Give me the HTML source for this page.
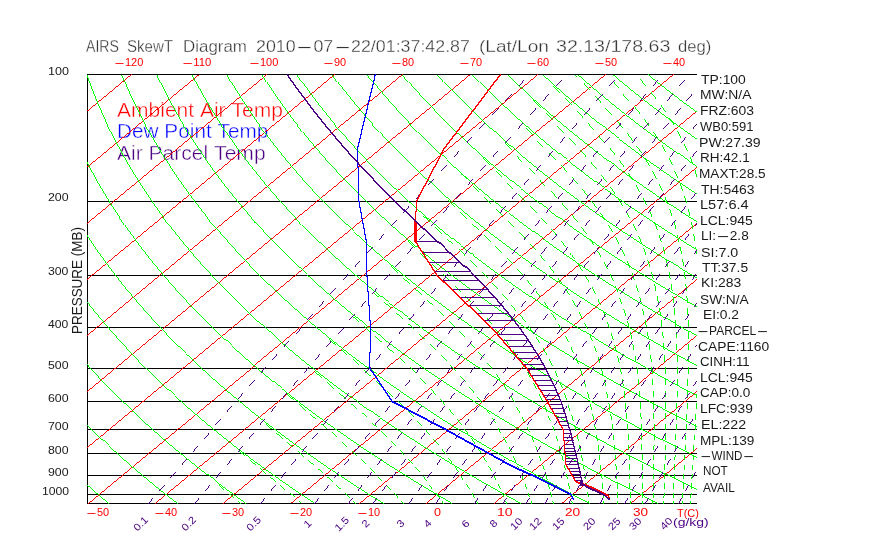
<!DOCTYPE html>
<html><head><meta charset="utf-8"><title>AIRS SkewT Diagram</title>
<style>
html,body{margin:0;padding:0;background:#fff}
#w{position:relative;width:870px;height:560px;overflow:hidden;background:#fff;font-family:"Liberation Sans",sans-serif}
#t{position:absolute;left:0;top:0;width:870px;height:560px;will-change:transform}
#w i{display:inline-block;font-style:normal;transform:scaleX(3);transform-origin:0 0}
#w span{position:absolute;white-space:pre;line-height:1;transform-origin:0 0;display:block}
</style></head><body><div id="w">
<div id="t">
<span style="left:85.6px;top:39.4px;font-size:15.8px;color:#333;transform:scaleX(0.8939);-webkit-text-stroke:0.3px #fff;">AIRS </span>
<span style="left:127.3px;top:39.4px;font-size:15.8px;color:#333;transform:scaleX(0.9532);-webkit-text-stroke:0.3px #fff;">SkewT </span>
<span style="left:182.8px;top:39.4px;font-size:15.8px;color:#333;transform:scaleX(1.0717);-webkit-text-stroke:0.3px #fff;">Diagram </span>
<span style="left:256.3px;top:39.4px;font-size:15.8px;color:#333;transform:scaleX(1.1273);-webkit-text-stroke:0.3px #fff;">2010<i style="width:15.8px">-</i>07<i style="width:15.8px">-</i>22/01:37:42.87 </span>
<span style="left:478.8px;top:39.4px;font-size:15.8px;color:#333;transform:scaleX(1.2058);-webkit-text-stroke:0.3px #fff;">(Lat/Lon </span>
<span style="left:556.3px;top:39.4px;font-size:15.8px;color:#333;transform:scaleX(1.2388);-webkit-text-stroke:0.3px #fff;">32.13/178.63 </span>
<span style="left:677.6px;top:39.4px;font-size:15.8px;color:#333;transform:scaleX(1.0543);-webkit-text-stroke:0.3px #fff;">deg) </span>
<span style="left:113.8px;top:57.8px;font-size:10px;color:#ff0000;transform:scaleX(1.0973);"><i style="width:10px">-</i>120</span>
<span style="left:181.5px;top:57.8px;font-size:10px;color:#ff0000;transform:scaleX(1.1308);"><i style="width:10px">-</i>110</span>
<span style="left:249.3px;top:57.8px;font-size:10px;color:#ff0000;transform:scaleX(1.0973);"><i style="width:10px">-</i>100</span>
<span style="left:323.2px;top:57.8px;font-size:10px;color:#ff0000;transform:scaleX(1.0922);"><i style="width:10px">-</i>90</span>
<span style="left:390.9px;top:57.8px;font-size:10px;color:#ff0000;transform:scaleX(1.0922);"><i style="width:10px">-</i>80</span>
<span style="left:458.7px;top:57.8px;font-size:10px;color:#ff0000;transform:scaleX(1.0922);"><i style="width:10px">-</i>70</span>
<span style="left:526.4px;top:57.8px;font-size:10px;color:#ff0000;transform:scaleX(1.0922);"><i style="width:10px">-</i>60</span>
<span style="left:594.2px;top:57.8px;font-size:10px;color:#ff0000;transform:scaleX(1.0922);"><i style="width:10px">-</i>50</span>
<span style="left:661.9px;top:57.8px;font-size:10px;color:#ff0000;transform:scaleX(1.0922);"><i style="width:10px">-</i>40</span>
<span style="left:85.7px;top:508.1px;font-size:10px;color:#ff0000;transform:scaleX(1.0922);"><i style="width:10px">-</i>50</span>
<span style="left:153.5px;top:508.1px;font-size:10px;color:#ff0000;transform:scaleX(1.0922);"><i style="width:10px">-</i>40</span>
<span style="left:221.2px;top:508.1px;font-size:10px;color:#ff0000;transform:scaleX(1.0922);"><i style="width:10px">-</i>30</span>
<span style="left:289px;top:508.1px;font-size:10px;color:#ff0000;transform:scaleX(1.0922);"><i style="width:10px">-</i>20</span>
<span style="left:356.7px;top:508.1px;font-size:10px;color:#ff0000;transform:scaleX(1.0922);"><i style="width:10px">-</i>10</span>
<span style="left:433.7px;top:508.1px;font-size:10px;color:#ff0000;transform:scaleX(1.2526);">0</span>
<span style="left:496.9px;top:508.1px;font-size:10px;color:#ff0000;transform:scaleX(1.4028);">10</span>
<span style="left:565px;top:508.1px;font-size:10px;color:#ff0000;transform:scaleX(1.3672);">20</span>
<span style="left:633px;top:508.1px;font-size:10px;color:#ff0000;transform:scaleX(1.3514);">30</span>
<span style="left:677.1px;top:507.8px;font-size:10.6px;color:#ff0000;transform:scaleX(1.0345);">T(C)</span>
<span style="left:47.7px;top:66.9px;font-size:10px;color:#1a1a1a;transform:scaleX(1.2548);">100</span>
<span style="left:48.1px;top:193.4px;font-size:10px;color:#1a1a1a;transform:scaleX(1.2342);">200</span>
<span style="left:48.2px;top:267.4px;font-size:10px;color:#1a1a1a;transform:scaleX(1.2249);">300</span>
<span style="left:48.4px;top:319.9px;font-size:10px;color:#1a1a1a;transform:scaleX(1.2127);">400</span>
<span style="left:48.2px;top:360.6px;font-size:10px;color:#1a1a1a;transform:scaleX(1.2264);">500</span>
<span style="left:48.1px;top:393.8px;font-size:10px;color:#1a1a1a;transform:scaleX(1.2342);">600</span>
<span style="left:48.1px;top:421.9px;font-size:10px;color:#1a1a1a;transform:scaleX(1.2350);">700</span>
<span style="left:48.2px;top:446.3px;font-size:10px;color:#1a1a1a;transform:scaleX(1.2287);">800</span>
<span style="left:48.1px;top:467.8px;font-size:10px;color:#1a1a1a;transform:scaleX(1.2311);">900</span>
<span style="left:41.6px;top:487px;font-size:10px;color:#1a1a1a;transform:scaleX(1.2180);">1000</span>
<span style="left:117.4px;top:99.8px;font-size:20px;color:#ff0000;transform:scaleX(1.0508);-webkit-text-stroke:0.4px #fff;">Ambient&nbsp;Air&nbsp;Temp</span>
<span style="left:116.9px;top:121.3px;font-size:20px;color:#0000ff;transform:scaleX(1.0392);-webkit-text-stroke:0.4px #fff;">Dew&nbsp;Point&nbsp;Temp</span>
<span style="left:117.4px;top:143.1px;font-size:20px;color:#4b0082;transform:scaleX(1.0527);-webkit-text-stroke:0.4px #fff;">Air&nbsp;Parcel&nbsp;Temp</span>
<span style="left:700.7px;top:74.4px;font-size:12.5px;color:#1a1a1a;transform:scaleX(1.1125);">TP:100</span>
<span style="left:699.9px;top:89.3px;font-size:12.5px;color:#1a1a1a;transform:scaleX(1.1116);">MW:N/A</span>
<span style="left:699.5px;top:105.1px;font-size:12.5px;color:#1a1a1a;transform:scaleX(1.1113);">FRZ:603</span>
<span style="left:700.1px;top:120.8px;font-size:12.5px;color:#1a1a1a;transform:scaleX(1.0382);">WB0:591</span>
<span style="left:698.6px;top:136.5px;font-size:12.5px;color:#1a1a1a;transform:scaleX(1.1272);">PW:27.39</span>
<span style="left:699.5px;top:152.2px;font-size:12.5px;color:#1a1a1a;transform:scaleX(1.0831);">RH:42.1</span>
<span style="left:698.7px;top:167.5px;font-size:12.5px;color:#1a1a1a;transform:scaleX(1.0889);">MAXT:28.5</span>
<span style="left:700.7px;top:183.7px;font-size:12.5px;color:#1a1a1a;transform:scaleX(1.1141);">TH:5463</span>
<span style="left:700.2px;top:199px;font-size:12.5px;color:#1a1a1a;transform:scaleX(1.1684);">L57:6.4</span>
<span style="left:699.9px;top:215.1px;font-size:12.5px;color:#1a1a1a;transform:scaleX(1.1154);">LCL:945</span>
<span style="left:700.7px;top:230.4px;font-size:12.5px;color:#1a1a1a;transform:scaleX(1.0901);">LI:<i style="width:12.5px">-</i>2.8</span>
<span style="left:701.2px;top:246.5px;font-size:12.5px;color:#1a1a1a;transform:scaleX(1.1415);">SI:7.0</span>
<span style="left:701.5px;top:261.8px;font-size:12.5px;color:#1a1a1a;transform:scaleX(1.1051);">TT:37.5</span>
<span style="left:700.7px;top:277.3px;font-size:12.5px;color:#1a1a1a;transform:scaleX(1.1135);">KI:283</span>
<span style="left:700.4px;top:293.5px;font-size:12.5px;color:#1a1a1a;transform:scaleX(1.1000);">SW:N/A</span>
<span style="left:702.7px;top:308.8px;font-size:12.5px;color:#1a1a1a;transform:scaleX(1.1028);">EI:0.2</span>
<span style="left:697px;top:324.5px;font-size:12.5px;color:#1a1a1a;transform:scaleX(0.9609);"><i style="width:12.5px">-</i>PARCEL<i style="width:12.5px">-</i></span>
<span style="left:697.9px;top:340.6px;font-size:12.5px;color:#1a1a1a;transform:scaleX(1.1061);">CAPE:1160</span>
<span style="left:699.9px;top:355.9px;font-size:12.5px;color:#1a1a1a;transform:scaleX(1.0573);">CINH:11</span>
<span style="left:699.9px;top:371.6px;font-size:12.5px;color:#1a1a1a;transform:scaleX(1.1154);">LCL:945</span>
<span style="left:699.9px;top:387.4px;font-size:12.5px;color:#1a1a1a;transform:scaleX(1.0825);">CAP:0.0</span>
<span style="left:699.9px;top:403.1px;font-size:12.5px;color:#1a1a1a;transform:scaleX(1.1009);">LFC:939</span>
<span style="left:700.6px;top:418.8px;font-size:12.5px;color:#1a1a1a;transform:scaleX(1.1380);">EL:222</span>
<span style="left:699.9px;top:434.5px;font-size:12.5px;color:#1a1a1a;transform:scaleX(1.0865);">MPL:139</span>
<span style="left:699.5px;top:450.2px;font-size:12.5px;color:#1a1a1a;transform:scaleX(0.9273);"><i style="width:12.5px">-</i>WIND<i style="width:12.5px">-</i></span>
<span style="left:702.8px;top:465.2px;font-size:12.5px;color:#1a1a1a;transform:scaleX(0.9372);">NOT</span>
<span style="left:702.6px;top:481.7px;font-size:12.5px;color:#1a1a1a;transform:scaleX(0.9476);">AVAIL</span>
<span style="left:133.7px;top:518.5px;font-size:10.2px;color:#4b0082;transform-origin:7px 5px;transform:rotate(-45deg) scaleX(1.12);">0.1</span>
<span style="left:182.2px;top:518.5px;font-size:10.2px;color:#4b0082;transform-origin:7px 5px;transform:rotate(-45deg) scaleX(1.12);">0.2</span>
<span style="left:247.4px;top:518.5px;font-size:10.2px;color:#4b0082;transform-origin:7.1px 5px;transform:rotate(-45deg) scaleX(1.12);">0.5</span>
<span style="left:304.8px;top:518.5px;font-size:10.2px;color:#4b0082;transform-origin:3px 5px;transform:rotate(-45deg) scaleX(1.12);">1</span>
<span style="left:334.7px;top:518.5px;font-size:10.2px;color:#4b0082;transform-origin:7.3px 5px;transform:rotate(-45deg) scaleX(1.12);">1.5</span>
<span style="left:363.2px;top:518.5px;font-size:10.2px;color:#4b0082;transform-origin:2.8px 5px;transform:rotate(-45deg) scaleX(1.12);">2</span>
<span style="left:398.2px;top:518.5px;font-size:10.2px;color:#4b0082;transform-origin:2.8px 5px;transform:rotate(-45deg) scaleX(1.12);">3</span>
<span style="left:425.2px;top:518.5px;font-size:10.2px;color:#4b0082;transform-origin:2.8px 5px;transform:rotate(-45deg) scaleX(1.12);">4</span>
<span style="left:463.1px;top:518.5px;font-size:10.2px;color:#4b0082;transform-origin:2.9px 5px;transform:rotate(-45deg) scaleX(1.12);">6</span>
<span style="left:491.1px;top:518.5px;font-size:10.2px;color:#4b0082;transform-origin:2.8px 5px;transform:rotate(-45deg) scaleX(1.12);">8</span>
<span style="left:510.8px;top:518.5px;font-size:10.2px;color:#4b0082;transform-origin:5.9px 5px;transform:rotate(-45deg) scaleX(1.12);">10</span>
<span style="left:530.4px;top:518.5px;font-size:10.2px;color:#4b0082;transform-origin:5.8px 5px;transform:rotate(-45deg) scaleX(1.12);">12</span>
<span style="left:553.2px;top:518.5px;font-size:10.2px;color:#4b0082;transform-origin:5.8px 5px;transform:rotate(-45deg) scaleX(1.12);">15</span>
<span style="left:583.7px;top:518.5px;font-size:10.2px;color:#4b0082;transform-origin:5.7px 5px;transform:rotate(-45deg) scaleX(1.12);">20</span>
<span style="left:608.5px;top:518.5px;font-size:10.2px;color:#4b0082;transform-origin:5.7px 5px;transform:rotate(-45deg) scaleX(1.12);">25</span>
<span style="left:630px;top:518.5px;font-size:10.2px;color:#4b0082;transform-origin:5.7px 5px;transform:rotate(-45deg) scaleX(1.12);">30</span>
<span style="left:661.4px;top:518.5px;font-size:10.2px;color:#4b0082;transform-origin:5.6px 5px;transform:rotate(-45deg) scaleX(1.12);">40</span>
<span style="left:673.1px;top:517.3px;font-size:11.5px;color:#4b0082;transform:scaleX(1.2157);">(g/kg)</span>
<span style="left:69.9px;top:333.6px;font-size:14.1px;color:#1a1a1a;transform-origin:0 0;transform:rotate(-90deg) scaleX(0.9546);">PRESSURE&nbsp;(MB)</span>
</div>
<svg width="870" height="560" viewBox="0 0 870 560" style="position:absolute;left:0;top:0" shape-rendering="crispEdges" fill="none">
<defs><clipPath id="c"><rect x="87" y="74" width="610" height="430"/></clipPath></defs>
<path stroke="#000" stroke-width="1" d="M87 201.5 H697 M87 275.5 H697 M87 327.5 H697 M87 368.5 H697 M87 401.5 H697 M87 429.5 H697 M87 453.5 H697 M87 475.5 H697 M87 494.5 H697 M87 74.5 H697 M87 503.5 H697 M87.5 74 V504"/>
<g clip-path="url(#c)" stroke-width="1">
<path stroke="#ff0000" stroke-width="0.99" d="M-454.5 503.5 L63.7 74.5 M-386.8 503.5 L131.5 74.5 M-319 503.5 L199.2 74.5 M-251.2 503.5 L267 74.5 M-183.5 503.5 L334.7 74.5 M-115.8 503.5 L402.5 74.5 M-48 503.5 L470.2 74.5 M19.8 503.5 L538 74.5 M87.5 503.5 L605.7 74.5 M155.2 503.5 L673.5 74.5 M223 503.5 L741.2 74.5 M290.8 503.5 L809 74.5 M358.5 503.5 L876.7 74.5 M426.2 503.5 L944.5 74.5 M494 503.5 L1012.2 74.5 M561.8 503.5 L1080 74.5 M629.5 503.5 L1147.7 74.5 M697.2 503.5 L1215.5 74.5"/>
<path stroke="#00ff00" stroke-width="0.99" d="M-123.6 74.5 L-123.4 81.7 L-123.1 88.8 L-122.7 96 L-122.2 103.1 L-121.6 110.2 L-121 117.4 L-120.2 124.5 L-119.3 131.7 L-118.2 138.8 L-117.1 146 L-115.9 153.2 L-114.6 160.3 L-113.1 167.4 L-111.5 174.6 L-109.9 181.8 L-108.1 188.9 L-106.1 196.1 L-104.1 203.2 L-101.9 210.3 L-99.7 217.5 L-97.3 224.7 L-94.7 231.8 L-92.1 238.9 L-89.3 246.1 L-86.4 253.2 L-83.4 260.4 L-80.2 267.6 L-76.9 274.7 L-73.5 281.9 L-69.9 289 L-66.2 296.1 L-62.3 303.3 L-58.4 310.4 L-54.2 317.6 L-50 324.8 L-45.5 331.9 L-41 339.1 L-36.2 346.2 L-31.4 353.4 L-26.4 360.5 L-21.2 367.6 L-15.9 374.8 L-10.4 381.9 L-4.7 389.1 L1.1 396.2 L7 403.4 L13.2 410.6 L19.5 417.7 L26 424.9 L32.6 432 L39.4 439.1 L46.4 446.3 L53.5 453.4 L60.9 460.6 L68.4 467.8 L76.1 474.9 L84 482.1 L92.1 489.2 L100.3 496.4 L108.8 503.5 M-88.5 74.5 L-87.9 81.7 L-87.2 88.8 L-86.5 96 L-85.6 103.1 L-84.6 110.2 L-83.4 117.4 L-82.2 124.5 L-80.9 131.7 L-79.5 138.8 L-77.9 146 L-76.2 153.2 L-74.4 160.3 L-72.5 167.4 L-70.5 174.6 L-68.4 181.8 L-66.1 188.9 L-63.7 196.1 L-61.2 203.2 L-58.6 210.3 L-55.8 217.5 L-52.9 224.7 L-49.9 231.8 L-46.7 238.9 L-43.4 246.1 L-40 253.2 L-36.4 260.4 L-32.7 267.6 L-28.9 274.7 L-24.9 281.9 L-20.8 289 L-16.6 296.1 L-12.2 303.3 L-7.6 310.4 L-2.9 317.6 L2 324.8 L7 331.9 L12.1 339.1 L17.4 346.2 L22.9 353.4 L28.5 360.5 L34.3 367.6 L40.3 374.8 L46.4 381.9 L52.7 389.1 L59.2 396.2 L65.8 403.4 L72.6 410.6 L79.5 417.7 L86.7 424.9 L94 432 L101.5 439.1 L109.2 446.3 L117.1 453.4 L125.1 460.6 L133.4 467.8 L141.8 474.9 L150.4 482.1 L159.2 489.2 L168.3 496.4 L177.5 503.5 M-53.4 74.5 L-52.5 81.7 L-51.4 88.8 L-50.2 96 L-48.9 103.1 L-47.5 110.2 L-45.9 117.4 L-44.3 124.5 L-42.5 131.7 L-40.7 138.8 L-38.7 146 L-36.6 153.2 L-34.3 160.3 L-32 167.4 L-29.5 174.6 L-26.9 181.8 L-24.1 188.9 L-21.3 196.1 L-18.3 203.2 L-15.2 210.3 L-11.9 217.5 L-8.5 224.7 L-5 231.8 L-1.3 238.9 L2.5 246.1 L6.4 253.2 L10.5 260.4 L14.7 267.6 L19.1 274.7 L23.6 281.9 L28.3 289 L33.1 296.1 L38 303.3 L43.2 310.4 L48.4 317.6 L53.9 324.8 L59.5 331.9 L65.2 339.1 L71.1 346.2 L77.2 353.4 L83.5 360.5 L89.9 367.6 L96.4 374.8 L103.2 381.9 L110.1 389.1 L117.2 396.2 L124.5 403.4 L132 410.6 L139.6 417.7 L147.4 424.9 L155.4 432 L163.6 439.1 L172 446.3 L180.6 453.4 L189.4 460.6 L198.3 467.8 L207.5 474.9 L216.9 482.1 L226.4 489.2 L236.2 496.4 L246.2 503.5 M-18.4 74.5 L-17 81.7 L-15.5 88.8 L-13.9 96 L-12.2 103.1 L-10.4 110.2 L-8.4 117.4 L-6.4 124.5 L-4.2 131.7 L-1.9 138.8 L0.6 146 L3.1 153.2 L5.8 160.3 L8.6 167.4 L11.5 174.6 L14.6 181.8 L17.8 188.9 L21.1 196.1 L24.6 203.2 L28.2 210.3 L32 217.5 L35.9 224.7 L39.9 231.8 L44 238.9 L48.4 246.1 L52.8 253.2 L57.4 260.4 L62.2 267.6 L67.1 274.7 L72.1 281.9 L77.3 289 L82.7 296.1 L88.2 303.3 L93.9 310.4 L99.8 317.6 L105.8 324.8 L112 331.9 L118.3 339.1 L124.8 346.2 L131.5 353.4 L138.4 360.5 L145.4 367.6 L152.6 374.8 L160 381.9 L167.5 389.1 L175.3 396.2 L183.2 403.4 L191.3 410.6 L199.7 417.7 L208.2 424.9 L216.8 432 L225.7 439.1 L234.8 446.3 L244.1 453.4 L253.6 460.6 L263.3 467.8 L273.2 474.9 L283.3 482.1 L293.6 489.2 L304.1 496.4 L314.9 503.5 M16.7 74.5 L18.5 81.7 L20.3 88.8 L22.3 96 L24.5 103.1 L26.7 110.2 L29.1 117.4 L31.6 124.5 L34.2 131.7 L36.9 138.8 L39.8 146 L42.8 153.2 L45.9 160.3 L49.2 167.4 L52.6 174.6 L56.1 181.8 L59.8 188.9 L63.6 196.1 L67.5 203.2 L71.6 210.3 L75.8 217.5 L80.2 224.7 L84.8 231.8 L89.4 238.9 L94.2 246.1 L99.2 253.2 L104.4 260.4 L109.6 267.6 L115.1 274.7 L120.7 281.9 L126.4 289 L132.4 296.1 L138.4 303.3 L144.7 310.4 L151.1 317.6 L157.7 324.8 L164.5 331.9 L171.4 339.1 L178.5 346.2 L185.8 353.4 L193.3 360.5 L200.9 367.6 L208.7 374.8 L216.8 381.9 L225 389.1 L233.4 396.2 L242 403.4 L250.7 410.6 L259.7 417.7 L268.9 424.9 L278.3 432 L287.8 439.1 L297.6 446.3 L307.6 453.4 L317.8 460.6 L328.2 467.8 L338.9 474.9 L349.7 482.1 L360.8 489.2 L372.1 496.4 L383.6 503.5 M51.8 74.5 L53.9 81.7 L56.2 88.8 L58.6 96 L61.1 103.1 L63.8 110.2 L66.6 117.4 L69.5 124.5 L72.5 131.7 L75.7 138.8 L79 146 L82.5 153.2 L86 160.3 L89.7 167.4 L93.6 174.6 L97.6 181.8 L101.7 188.9 L106 196.1 L110.4 203.2 L115 210.3 L119.7 217.5 L124.6 224.7 L129.6 231.8 L134.8 238.9 L140.1 246.1 L145.6 253.2 L151.3 260.4 L157.1 267.6 L163.1 274.7 L169.2 281.9 L175.5 289 L182 296.1 L188.6 303.3 L195.5 310.4 L202.4 317.6 L209.6 324.8 L217 331.9 L224.5 339.1 L232.2 346.2 L240.1 353.4 L248.2 360.5 L256.4 367.6 L264.9 374.8 L273.5 381.9 L282.4 389.1 L291.4 396.2 L300.7 403.4 L310.1 410.6 L319.8 417.7 L329.6 424.9 L339.7 432 L350 439.1 L360.4 446.3 L371.1 453.4 L382.1 460.6 L393.2 467.8 L404.6 474.9 L416.2 482.1 L428 489.2 L440 496.4 L452.3 503.5 M86.8 74.5 L89.4 81.7 L92.1 88.8 L94.9 96 L97.8 103.1 L100.9 110.2 L104.1 117.4 L107.4 124.5 L110.9 131.7 L114.5 138.8 L118.2 146 L122.1 153.2 L126.1 160.3 L130.3 167.4 L134.6 174.6 L139.1 181.8 L143.7 188.9 L148.4 196.1 L153.3 203.2 L158.4 210.3 L163.6 217.5 L169 224.7 L174.5 231.8 L180.2 238.9 L186 246.1 L192 253.2 L198.2 260.4 L204.6 267.6 L211.1 274.7 L217.7 281.9 L224.6 289 L231.6 296.1 L238.8 303.3 L246.2 310.4 L253.8 317.6 L261.5 324.8 L269.5 331.9 L277.6 339.1 L285.9 346.2 L294.4 353.4 L303.1 360.5 L312 367.6 L321 374.8 L330.3 381.9 L339.8 389.1 L349.5 396.2 L359.4 403.4 L369.5 410.6 L379.8 417.7 L390.4 424.9 L401.1 432 L412.1 439.1 L423.3 446.3 L434.7 453.4 L446.3 460.6 L458.2 467.8 L470.3 474.9 L482.6 482.1 L495.2 489.2 L508 496.4 L521 503.5 M121.9 74.5 L124.9 81.7 L127.9 88.8 L131.1 96 L134.5 103.1 L138 110.2 L141.6 117.4 L145.4 124.5 L149.2 131.7 L153.3 138.8 L157.5 146 L161.8 153.2 L166.3 160.3 L170.9 167.4 L175.6 174.6 L180.6 181.8 L185.6 188.9 L190.9 196.1 L196.2 203.2 L201.8 210.3 L207.5 217.5 L213.3 224.7 L219.4 231.8 L225.6 238.9 L231.9 246.1 L238.5 253.2 L245.1 260.4 L252 267.6 L259.1 274.7 L266.3 281.9 L273.7 289 L281.3 296.1 L289 303.3 L297 310.4 L305.1 317.6 L313.4 324.8 L322 331.9 L330.7 339.1 L339.6 346.2 L348.7 353.4 L358 360.5 L367.5 367.6 L377.2 374.8 L387.1 381.9 L397.2 389.1 L407.6 396.2 L418.1 403.4 L428.9 410.6 L439.9 417.7 L451.1 424.9 L462.5 432 L474.2 439.1 L486.1 446.3 L498.2 453.4 L510.5 460.6 L523.1 467.8 L536 474.9 L549 482.1 L562.3 489.2 L575.9 496.4 L589.7 503.5 M157 74.5 L160.3 81.7 L163.8 88.8 L167.4 96 L171.2 103.1 L175.1 110.2 L179.1 117.4 L183.3 124.5 L187.6 131.7 L192.1 138.8 L196.7 146 L201.5 153.2 L206.4 160.3 L211.4 167.4 L216.7 174.6 L222.1 181.8 L227.6 188.9 L233.3 196.1 L239.2 203.2 L245.2 210.3 L251.4 217.5 L257.7 224.7 L264.2 231.8 L270.9 238.9 L277.8 246.1 L284.9 253.2 L292.1 260.4 L299.5 267.6 L307.1 274.7 L314.8 281.9 L322.8 289 L330.9 296.1 L339.2 303.3 L347.7 310.4 L356.5 317.6 L365.4 324.8 L374.5 331.9 L383.8 339.1 L393.3 346.2 L403 353.4 L412.9 360.5 L423 367.6 L433.4 374.8 L443.9 381.9 L454.7 389.1 L465.7 396.2 L476.9 403.4 L488.3 410.6 L499.9 417.7 L511.8 424.9 L523.9 432 L536.3 439.1 L548.9 446.3 L561.7 453.4 L574.8 460.6 L588.1 467.8 L601.6 474.9 L615.5 482.1 L629.5 489.2 L643.8 496.4 L658.4 503.5 M192 74.5 L195.8 81.7 L199.7 88.8 L203.7 96 L207.8 103.1 L212.2 110.2 L216.6 117.4 L221.2 124.5 L226 131.7 L230.9 138.8 L235.9 146 L241.1 153.2 L246.5 160.3 L252 167.4 L257.7 174.6 L263.5 181.8 L269.5 188.9 L275.7 196.1 L282.1 203.2 L288.6 210.3 L295.2 217.5 L302.1 224.7 L309.1 231.8 L316.3 238.9 L323.7 246.1 L331.3 253.2 L339 260.4 L346.9 267.6 L355.1 274.7 L363.4 281.9 L371.9 289 L380.5 296.1 L389.4 303.3 L398.5 310.4 L407.8 317.6 L417.3 324.8 L427 331.9 L436.9 339.1 L447 346.2 L457.3 353.4 L467.8 360.5 L478.5 367.6 L489.5 374.8 L500.7 381.9 L512.1 389.1 L523.7 396.2 L535.6 403.4 L547.7 410.6 L560 417.7 L572.6 424.9 L585.4 432 L598.4 439.1 L611.7 446.3 L625.2 453.4 L639 460.6 L653 467.8 L667.3 474.9 L681.9 482.1 L696.7 489.2 L711.8 496.4 L727.1 503.5 M227.1 74.5 L231.2 81.7 L235.5 88.8 L240 96 L244.5 103.1 L249.2 110.2 L254.1 117.4 L259.1 124.5 L264.3 131.7 L269.7 138.8 L275.1 146 L280.8 153.2 L286.6 160.3 L292.6 167.4 L298.7 174.6 L305 181.8 L311.5 188.9 L318.2 196.1 L325 203.2 L332 210.3 L339.1 217.5 L346.5 224.7 L354 231.8 L361.7 238.9 L369.6 246.1 L377.7 253.2 L385.9 260.4 L394.4 267.6 L403.1 274.7 L411.9 281.9 L420.9 289 L430.2 296.1 L439.6 303.3 L449.3 310.4 L459.1 317.6 L469.2 324.8 L479.5 331.9 L489.9 339.1 L500.6 346.2 L511.6 353.4 L522.7 360.5 L534.1 367.6 L545.7 374.8 L557.5 381.9 L569.5 389.1 L581.8 396.2 L594.3 403.4 L607.1 410.6 L620.1 417.7 L633.3 424.9 L646.8 432 L660.5 439.1 L674.5 446.3 L688.7 453.4 L703.2 460.6 L718 467.8 L733 474.9 L748.3 482.1 L763.9 489.2 L779.7 496.4 L795.8 503.5 M262.2 74.5 L266.7 81.7 L271.4 88.8 L276.2 96 L281.2 103.1 L286.3 110.2 L291.6 117.4 L297.1 124.5 L302.7 131.7 L308.4 138.8 L314.4 146 L320.5 153.2 L326.7 160.3 L333.2 167.4 L339.8 174.6 L346.5 181.8 L353.5 188.9 L360.6 196.1 L367.9 203.2 L375.4 210.3 L383 217.5 L390.8 224.7 L398.9 231.8 L407.1 238.9 L415.5 246.1 L424.1 253.2 L432.9 260.4 L441.9 267.6 L451 274.7 L460.4 281.9 L470 289 L479.8 296.1 L489.8 303.3 L500 310.4 L510.5 317.6 L521.1 324.8 L532 331.9 L543 339.1 L554.3 346.2 L565.9 353.4 L577.6 360.5 L589.6 367.6 L601.8 374.8 L614.3 381.9 L626.9 389.1 L639.9 396.2 L653 403.4 L666.4 410.6 L680.1 417.7 L694 424.9 L708.2 432 L722.6 439.1 L737.3 446.3 L752.3 453.4 L767.5 460.6 L783 467.8 L798.7 474.9 L814.7 482.1 L831.1 489.2 L847.6 496.4 L864.5 503.5 M297.2 74.5 L302.2 81.7 L307.3 88.8 L312.5 96 L317.9 103.1 L323.4 110.2 L329.1 117.4 L335 124.5 L341 131.7 L347.2 138.8 L353.6 146 L360.1 153.2 L366.8 160.3 L373.7 167.4 L380.8 174.6 L388 181.8 L395.4 188.9 L403 196.1 L410.8 203.2 L418.7 210.3 L426.9 217.5 L435.2 224.7 L443.7 231.8 L452.5 238.9 L461.4 246.1 L470.5 253.2 L479.8 260.4 L489.3 267.6 L499 274.7 L509 281.9 L519.1 289 L529.5 296.1 L540 303.3 L550.8 310.4 L561.8 317.6 L573 324.8 L584.5 331.9 L596.1 339.1 L608 346.2 L620.2 353.4 L632.5 360.5 L645.1 367.6 L658 374.8 L671 381.9 L684.4 389.1 L697.9 396.2 L711.8 403.4 L725.8 410.6 L740.2 417.7 L754.8 424.9 L769.6 432 L784.7 439.1 L800.1 446.3 L815.8 453.4 L831.7 460.6 L847.9 467.8 L864.4 474.9 L881.2 482.1 L898.2 489.2 L915.6 496.4 L933.2 503.5 M332.3 74.5 L337.6 81.7 L343.1 88.8 L348.8 96 L354.6 103.1 L360.5 110.2 L366.6 117.4 L372.9 124.5 L379.4 131.7 L386 138.8 L392.8 146 L399.8 153.2 L407 160.3 L414.3 167.4 L421.8 174.6 L429.5 181.8 L437.4 188.9 L445.4 196.1 L453.7 203.2 L462.1 210.3 L470.8 217.5 L479.6 224.7 L488.6 231.8 L497.8 238.9 L507.3 246.1 L516.9 253.2 L526.7 260.4 L536.8 267.6 L547 274.7 L557.5 281.9 L568.2 289 L579.1 296.1 L590.2 303.3 L601.6 310.4 L613.1 317.6 L624.9 324.8 L637 331.9 L649.2 339.1 L661.7 346.2 L674.4 353.4 L687.4 360.5 L700.6 367.6 L714.1 374.8 L727.8 381.9 L741.8 389.1 L756 396.2 L770.5 403.4 L785.2 410.6 L800.2 417.7 L815.5 424.9 L831 432 L846.8 439.1 L862.9 446.3 L879.3 453.4 L895.9 460.6 L912.9 467.8 L930.1 474.9 L947.6 482.1 L965.4 489.2 L983.5 496.4 L1001.9 503.5 M367.4 74.5 L373.1 81.7 L379 88.8 L385 96 L391.2 103.1 L397.6 110.2 L404.1 117.4 L410.9 124.5 L417.8 131.7 L424.8 138.8 L432.1 146 L439.5 153.2 L447.1 160.3 L454.9 167.4 L462.8 174.6 L471 181.8 L479.3 188.9 L487.9 196.1 L496.6 203.2 L505.5 210.3 L514.6 217.5 L524 224.7 L533.5 231.8 L543.2 238.9 L553.2 246.1 L563.3 253.2 L573.7 260.4 L584.2 267.6 L595 274.7 L606 281.9 L617.3 289 L628.7 296.1 L640.4 303.3 L652.3 310.4 L664.5 317.6 L676.8 324.8 L689.5 331.9 L702.3 339.1 L715.4 346.2 L728.7 353.4 L742.3 360.5 L756.2 367.6 L770.3 374.8 L784.6 381.9 L799.2 389.1 L814.1 396.2 L829.2 403.4 L844.6 410.6 L860.3 417.7 L876.2 424.9 L892.5 432 L909 439.1 L925.7 446.3 L942.8 453.4 L960.2 460.6 L977.8 467.8 L995.8 474.9 L1014 482.1 L1032.6 489.2 L1051.5 496.4 L1070.6 503.5 M402.4 74.5 L408.6 81.7 L414.8 88.8 L421.3 96 L427.9 103.1 L434.7 110.2 L441.7 117.4 L448.8 124.5 L456.1 131.7 L463.6 138.8 L471.3 146 L479.1 153.2 L487.2 160.3 L495.4 167.4 L503.9 174.6 L512.5 181.8 L521.3 188.9 L530.3 196.1 L539.5 203.2 L548.9 210.3 L558.5 217.5 L568.3 224.7 L578.4 231.8 L588.6 238.9 L599.1 246.1 L609.7 253.2 L620.6 260.4 L631.7 267.6 L643 274.7 L654.6 281.9 L666.4 289 L678.4 296.1 L690.6 303.3 L703.1 310.4 L715.8 317.6 L728.8 324.8 L742 331.9 L755.4 339.1 L769.1 346.2 L783 353.4 L797.2 360.5 L811.7 367.6 L826.4 374.8 L841.4 381.9 L856.6 389.1 L872.2 396.2 L887.9 403.4 L904 410.6 L920.3 417.7 L937 424.9 L953.9 432 L971.1 439.1 L988.6 446.3 L1006.3 453.4 L1024.4 460.6 L1042.8 467.8 L1061.5 474.9 L1080.5 482.1 L1099.8 489.2 L1119.4 496.4 L1139.3 503.5 M437.5 74.5 L444 81.7 L450.7 88.8 L457.6 96 L464.6 103.1 L471.8 110.2 L479.2 117.4 L486.7 124.5 L494.5 131.7 L502.4 138.8 L510.5 146 L518.8 153.2 L527.3 160.3 L536 167.4 L544.9 174.6 L554 181.8 L563.2 188.9 L572.7 196.1 L582.4 203.2 L592.3 210.3 L602.4 217.5 L612.7 224.7 L623.2 231.8 L634 238.9 L645 246.1 L656.1 253.2 L667.5 260.4 L679.2 267.6 L691 274.7 L703.1 281.9 L715.4 289 L728 296.1 L740.8 303.3 L753.9 310.4 L767.1 317.6 L780.7 324.8 L794.5 331.9 L808.5 339.1 L822.8 346.2 L837.3 353.4 L852.1 360.5 L867.2 367.6 L882.6 374.8 L898.2 381.9 L914.1 389.1 L930.2 396.2 L946.7 403.4 L963.4 410.6 L980.4 417.7 L997.7 424.9 L1015.3 432 L1033.2 439.1 L1051.4 446.3 L1069.9 453.4 L1088.7 460.6 L1107.8 467.8 L1127.2 474.9 L1146.9 482.1 L1167 489.2 L1187.3 496.4 L1208 503.5 M472.6 74.5 L479.5 81.7 L486.6 88.8 L493.8 96 L501.3 103.1 L508.9 110.2 L516.7 117.4 L524.7 124.5 L532.8 131.7 L541.2 138.8 L549.7 146 L558.5 153.2 L567.4 160.3 L576.6 167.4 L585.9 174.6 L595.5 181.8 L605.2 188.9 L615.2 196.1 L625.3 203.2 L635.7 210.3 L646.3 217.5 L657.1 224.7 L668.1 231.8 L679.4 238.9 L690.8 246.1 L702.5 253.2 L714.5 260.4 L726.6 267.6 L739 274.7 L751.7 281.9 L764.5 289 L777.6 296.1 L791 303.3 L804.6 310.4 L818.5 317.6 L832.6 324.8 L847 331.9 L861.6 339.1 L876.5 346.2 L891.6 353.4 L907 360.5 L922.7 367.6 L938.7 374.8 L955 381.9 L971.5 389.1 L988.3 396.2 L1005.4 403.4 L1022.8 410.6 L1040.5 417.7 L1058.4 424.9 L1076.7 432 L1095.3 439.1 L1114.2 446.3 L1133.4 453.4 L1152.9 460.6 L1172.7 467.8 L1192.9 474.9 L1213.3 482.1 L1234.1 489.2 L1255.3 496.4 L1276.7 503.5 M507.7 74.5 L514.9 81.7 L522.4 88.8 L530.1 96 L537.9 103.1 L546 110.2 L554.2 117.4 L562.6 124.5 L571.2 131.7 L580 138.8 L589 146 L598.2 153.2 L607.5 160.3 L617.1 167.4 L626.9 174.6 L636.9 181.8 L647.2 188.9 L657.6 196.1 L668.2 203.2 L679.1 210.3 L690.2 217.5 L701.5 224.7 L713 231.8 L724.8 238.9 L736.7 246.1 L749 253.2 L761.4 260.4 L774.1 267.6 L787 274.7 L800.2 281.9 L813.6 289 L827.3 296.1 L841.2 303.3 L855.4 310.4 L869.8 317.6 L884.5 324.8 L899.5 331.9 L914.7 339.1 L930.2 346.2 L945.9 353.4 L962 360.5 L978.3 367.6 L994.9 374.8 L1011.7 381.9 L1028.9 389.1 L1046.4 396.2 L1064.1 403.4 L1082.2 410.6 L1100.5 417.7 L1119.2 424.9 L1138.1 432 L1157.4 439.1 L1177 446.3 L1196.9 453.4 L1217.1 460.6 L1237.7 467.8 L1258.6 474.9 L1279.8 482.1 L1301.3 489.2 L1323.2 496.4 L1345.4 503.5 M542.7 74.5 L550.4 81.7 L558.3 88.8 L566.4 96 L574.6 103.1 L583 110.2 L591.7 117.4 L600.5 124.5 L609.5 131.7 L618.8 138.8 L628.2 146 L637.8 153.2 L647.7 160.3 L657.7 167.4 L668 174.6 L678.4 181.8 L689.1 188.9 L700 196.1 L711.1 203.2 L722.5 210.3 L734 217.5 L745.8 224.7 L757.9 231.8 L770.1 238.9 L782.6 246.1 L795.4 253.2 L808.3 260.4 L821.6 267.6 L835 274.7 L848.7 281.9 L862.7 289 L876.9 296.1 L891.4 303.3 L906.1 310.4 L921.1 317.6 L936.4 324.8 L952 331.9 L967.8 339.1 L983.8 346.2 L1000.2 353.4 L1016.9 360.5 L1033.8 367.6 L1051 374.8 L1068.5 381.9 L1086.3 389.1 L1104.4 396.2 L1122.8 403.4 L1141.6 410.6 L1160.6 417.7 L1179.9 424.9 L1199.5 432 L1219.5 439.1 L1239.8 446.3 L1260.4 453.4 L1281.4 460.6 L1302.6 467.8 L1324.2 474.9 L1346.2 482.1 L1368.5 489.2 L1391.1 496.4 L1414.1 503.5 M577.8 74.5 L585.9 81.7 L594.2 88.8 L602.6 96 L611.3 103.1 L620.1 110.2 L629.2 117.4 L638.4 124.5 L647.9 131.7 L657.6 138.8 L667.4 146 L677.5 153.2 L687.8 160.3 L698.3 167.4 L709 174.6 L719.9 181.8 L731.1 188.9 L742.4 196.1 L754 203.2 L765.9 210.3 L777.9 217.5 L790.2 224.7 L802.7 231.8 L815.5 238.9 L828.5 246.1 L841.8 253.2 L855.3 260.4 L869 267.6 L883 274.7 L897.3 281.9 L911.8 289 L926.6 296.1 L941.6 303.3 L956.9 310.4 L972.5 317.6 L988.3 324.8 L1004.4 331.9 L1020.9 339.1 L1037.5 346.2 L1054.5 353.4 L1071.8 360.5 L1089.3 367.6 L1107.2 374.8 L1125.3 381.9 L1143.8 389.1 L1162.5 396.2 L1181.6 403.4 L1200.9 410.6 L1220.6 417.7 L1240.6 424.9 L1261 432 L1281.6 439.1 L1302.6 446.3 L1323.9 453.4 L1345.6 460.6 L1367.6 467.8 L1389.9 474.9 L1412.6 482.1 L1435.7 489.2 L1459.1 496.4 L1482.9 503.5 M612.9 74.5 L621.3 81.7 L630 88.8 L638.9 96 L648 103.1 L657.2 110.2 L666.7 117.4 L676.4 124.5 L686.3 131.7 L696.3 138.8 L706.6 146 L717.2 153.2 L727.9 160.3 L738.8 167.4 L750 174.6 L761.4 181.8 L773 188.9 L784.9 196.1 L796.9 203.2 L809.3 210.3 L821.8 217.5 L834.6 224.7 L847.6 231.8 L860.9 238.9 L874.4 246.1 L888.2 253.2 L902.2 260.4 L916.5 267.6 L931 274.7 L945.8 281.9 L960.9 289 L976.2 296.1 L991.8 303.3 L1007.7 310.4 L1023.8 317.6 L1040.2 324.8 L1056.9 331.9 L1073.9 339.1 L1091.2 346.2 L1108.8 353.4 L1126.7 360.5 L1144.8 367.6 L1163.3 374.8 L1182.1 381.9 L1201.2 389.1 L1220.6 396.2 L1240.3 403.4 L1260.3 410.6 L1280.7 417.7 L1301.4 424.9 L1322.4 432 L1343.7 439.1 L1365.4 446.3 L1387.5 453.4 L1409.8 460.6 L1432.6 467.8 L1455.6 474.9 L1479.1 482.1 L1502.9 489.2 L1527 496.4 L1551.6 503.5 M647.9 74.5 L656.8 81.7 L665.9 88.8 L675.2 96 L684.6 103.1 L694.3 110.2 L704.2 117.4 L714.3 124.5 L724.6 131.7 L735.1 138.8 L745.9 146 L756.8 153.2 L768 160.3 L779.4 167.4 L791 174.6 L802.9 181.8 L815 188.9 L827.3 196.1 L839.9 203.2 L852.6 210.3 L865.7 217.5 L879 224.7 L892.5 231.8 L906.3 238.9 L920.3 246.1 L934.6 253.2 L949.1 260.4 L963.9 267.6 L979 274.7 L994.3 281.9 L1010 289 L1025.8 296.1 L1042 303.3 L1058.4 310.4 L1075.1 317.6 L1092.2 324.8 L1109.4 331.9 L1127 339.1 L1144.9 346.2 L1163.1 353.4 L1181.6 360.5 L1200.4 367.6 L1219.5 374.8 L1238.9 381.9 L1258.6 389.1 L1278.6 396.2 L1299 403.4 L1319.7 410.6 L1340.7 417.7 L1362.1 424.9 L1383.8 432 L1405.8 439.1 L1428.2 446.3 L1451 453.4 L1474.1 460.6 L1497.5 467.8 L1521.3 474.9 L1545.5 482.1 L1570 489.2 L1595 496.4 L1620.3 503.5"/>
<path stroke="#00ff00" stroke-width="0.99" d="M238.4 501.3 L241 503.5 M228.6 493.3 L234.2 497.9 M218.8 485.3 L224.4 489.9 M298.8 501.3 L301.4 503.5 M289.5 493.3 L294.8 497.8 M280 485.2 L285.4 489.8 M270.2 477 L275.8 481.7 M260.1 468.6 L265.8 473.4 M249.8 460 L255.7 464.9 M239.4 451.3 L245.3 456.3 M353.5 501.3 L355.7 503.5 M345 493.1 L349.8 497.7 M336.3 485.1 L341.3 489.7 M327.2 476.8 L332.5 481.5 M317.7 468.4 L323.2 473.2 M307.9 459.9 L313.5 464.8 M297.7 451.1 L303.5 456.1 M287.2 442.2 L293.2 447.3 M276.4 433.1 L282.5 438.3 M265.6 423.9 L271.7 429.1 M401.2 501.3 L403.1 503.5 M393.9 493 L398 497.6 M386.3 484.8 L390.7 489.5 M378.3 476.5 L382.9 481.2 M369.9 468.1 L374.8 472.9 M361 459.5 L366.1 464.4 M351.6 450.7 L357 455.7 M341.8 441.8 L347.4 446.9 M331.5 432.7 L337.4 437.9 M320.9 423.5 L326.9 428.7 M310.1 414.1 L316.3 419.5 M299.1 404.6 L305.9 410.5 M287 394.3 L293.8 400.1 M442 501.3 L443.5 503.5 M435.9 492.8 L439.3 497.5 M429.6 484.5 L433.2 489.2 M422.8 476 L426.7 480.8 M415.5 467.3 L419.7 472.2 M407.8 458.6 L412.2 463.6 M399.5 449.7 L404.2 454.8 M390.7 440.7 L395.7 445.8 M381.4 431.6 L386.7 436.7 M371.6 422.3 L377.2 427.5 M361.5 413 L367.4 418.4 M350.8 403.4 L357.3 409.2 M339.1 393 L345.7 398.8 M327.2 382.6 L333.9 388.4 M315.3 372.2 L322 378 M476.5 501.3 L477.7 503.5 M471.7 492.7 L474.4 497.5 M466.5 484.1 L469.5 489 M461 475.5 L464.2 480.4 M454.9 466.6 L458.4 471.7 M448.4 457.7 L452.2 462.8 M441.4 448.6 L445.4 453.8 M433.8 439.4 L438.1 444.6 M425.6 430 L430.2 435.3 M416.9 420.7 L421.9 425.9 M407.8 411.2 L413.2 416.7 M397.9 401.4 L403.9 407.2 M387 391 L393.2 396.9 M375.8 380.6 L382.1 386.5 M364.2 370.2 L370.7 376.1 M352.5 359.8 L359.1 365.7 M340.7 349.4 L347.4 355.2 M328.8 338.9 L335.5 344.8 M505.9 501.3 L506.8 503.5 M502.1 492.6 L504.2 497.4 M498 483.9 L500.4 488.8 M493.6 475 L496.1 480.1 M488.7 466.1 L491.5 471.2 M483.4 456.9 L486.5 462.1 M477.6 447.6 L480.9 452.9 M471.3 438.2 L474.9 443.6 M464.4 428.7 L468.3 434 M457 419.1 L461.2 424.5 M449.1 409.4 L453.8 415.1 M440.2 399.3 L445.4 405.2 M430.4 388.7 L435.9 394.6 M420.1 378.3 L425.9 384.1 M409.5 367.9 L415.5 373.7 M398.5 357.4 L404.7 363.3 M387.1 347 L393.5 352.8 M375.4 336.5 L382 342.4 M363.7 326.1 L370.3 332 M351.8 315.6 L358.5 321.5 M531.1 501.3 L531.8 503.5 M528.1 492.5 L529.8 497.4 M524.9 483.7 L526.8 488.7 M521.5 474.7 L523.5 479.8 M517.6 465.6 L519.9 470.8 M513.4 456.3 L515.9 461.6 M508.8 446.8 L511.5 452.2 M503.7 437.2 L506.6 442.7 M498.1 427.5 L501.3 432.9 M492 417.7 L495.5 423.2 M485.3 407.8 L489.4 413.7 M477.7 397.3 L482.1 403.3 M469.2 386.6 L474 392.5 M460.2 375.9 L465.3 381.8 M450.6 365.3 L456 371.2 M440.6 354.8 L446.2 360.6 M430 344.3 L436 350.2 M419.1 333.9 L425.3 339.7 M407.8 323.4 L414.2 329.3 M396.2 312.9 L402.7 318.8 M384.4 302.2 L391.1 308.2 M372.6 291.5 L379.2 297.6 M552.9 501.3 L553.4 503.5 M550.6 492.4 L551.9 497.4 M548.2 483.5 L549.6 488.6 M545.5 474.4 L547.1 479.6 M542.6 465.2 L544.3 470.4 M539.3 455.7 L541.2 461.1 M535.7 446.1 L537.8 451.6 M531.7 436.4 L534 441.9 M527.2 426.5 L529.8 432.1 M522.3 416.5 L525.1 422.1 M516.9 406.5 L520.2 412.6 M510.5 395.6 L514.2 401.8 M503.5 384.7 L507.5 390.8 M495.8 373.8 L500.2 379.9 M487.6 363 L492.2 369 M478.7 352.3 L483.7 358.3 M469.2 341.6 L474.6 347.6 M459.2 331.1 L464.9 337 M448.8 320.6 L454.7 326.5 M437.9 310 L444.1 316 M426.6 299.4 L433 305.4 M414.9 288.6 L421.5 294.7 M403 277.8 L409.7 283.9 M391.4 266.8 L397.9 273 M571.9 501.3 L572.3 503.5 M570.3 492.3 L571.2 497.4 M568.5 483.4 L569.5 488.5 M566.5 474.2 L567.6 479.4 M564.3 464.8 L565.6 470.2 M561.8 455.3 L563.2 460.8 M559 445.6 L560.6 451.1 M555.9 435.7 L557.7 441.3 M552.5 425.7 L554.5 431.3 M548.6 415.5 L550.8 421.2 M544.4 405.4 L547 411.6 M539.2 394.2 L542.2 400.5 M533.5 383.1 L536.8 389.3 M527.2 372 L530.8 378.2 M520.4 361 L524.3 367.2 M512.9 350.1 L517.1 356.2 M504.6 339.3 L509.3 345.3 M495.8 328.5 L500.8 334.5 M486.4 317.8 L491.7 323.8 M476.4 307.1 L482.1 313.1 M465.9 296.4 L471.8 302.4 M454.9 285.6 L461.1 291.7 M443.4 274.7 L449.9 280.9 M431.6 263.8 L438.3 270 M419.8 252.7 L426.4 258.9 M408.1 241.5 L414.7 247.8 M588.8 501.3 L589.1 503.5 M587.6 492.3 L588.3 497.4 M586.3 483.3 L587.1 488.4 M584.9 474 L585.7 479.3 M583.3 464.6 L584.2 470 M581.5 455 L582.5 460.5 M579.4 445.2 L580.6 450.8 M577.1 435.2 L578.4 440.9 M574.5 425 L576 430.8 M571.6 414.8 L573.3 420.6 M568.3 404.5 L570.4 410.8 M564.3 393.1 L566.6 399.5 M559.8 381.9 L562.4 388.1 M554.8 370.6 L557.6 376.9 M549.2 359.4 L552.4 365.7 M543.1 348.3 L546.6 354.5 M536.2 337.3 L540.1 343.4 M528.7 326.3 L532.9 332.5 M520.5 315.4 L525.2 321.5 M511.7 304.5 L516.7 310.6 M502.2 293.6 L507.6 299.7 M492 282.6 L497.8 288.8 M481.3 271.7 L487.4 277.8 M470.2 260.7 L476.5 266.9 M458.5 249.6 L465.1 255.8 M446.6 238.3 L453.4 244.7 M435 227 L441.5 233.4 M423 215.6 L429.8 222 M603.9 501.3 L604 503.5 M603.2 492.4 L603.6 497.5 M602.4 483.3 L602.9 488.5 M601.5 474 L602.1 479.3 M600.5 464.5 L601.1 469.9 M599.4 454.8 L600.1 460.3 M598 444.9 L598.8 450.5 M596.5 434.8 L597.4 440.5 M594.7 424.5 L595.7 430.3 M592.7 414.2 L593.9 420 M590.3 403.6 L591.8 410.1 M587.4 392.2 L589.1 398.6 M584.1 380.7 L586 387.1 M580.4 369.3 L582.5 375.7 M575.8 358 L578.4 364.3 M570.7 346.7 L573.6 353 M565 335.6 L568.3 341.8 M558.8 324.4 L562.3 330.6 M551.8 313.3 L555.8 319.5 M544.2 302.2 L548.6 308.4 M535.8 291.1 L540.6 297.3 M526.7 279.9 L531.9 286.2 M517 268.8 L522.5 275 M506.5 257.6 L512.5 263.9 M495.5 246.4 L501.8 252.7 M484.1 235.2 L490.6 241.5 M472.1 223.8 L478.9 230.2 M460.4 212.3 L466.9 218.8 M448.4 200.8 L455.2 207.3 M617.9 501.3 L618 503.5 M617.5 492.4 L617.7 497.5 M617.1 483.3 L617.3 488.5 M616.5 473.9 L616.8 479.3 M615.9 464.4 L616.3 469.8 M615.2 454.6 L615.6 460.2 M614.3 444.7 L614.8 450.4 M613.3 434.5 L613.9 440.3 M612 424.2 L612.7 430 M610.6 413.7 L611.5 419.7 M608.9 403.1 L610 409.6 M606.8 391.5 L608.1 398 M604.4 380 L605.8 386.4 M601.6 368.5 L603.2 374.9 M598.1 357 L600.1 363.4 M594.1 345.6 L596.4 352 M589.6 334.3 L592.1 340.6 M584.5 323 L587.4 329.3 M578.9 311.7 L582.1 318 M572.6 300.4 L576.2 306.7 M565.5 289 L569.6 295.4 M557.7 277.7 L562.2 284.1 M549.1 266.3 L554 272.7 M539.8 255 L545.1 261.3 M529.7 243.6 L535.5 250 M519 232.2 L525.1 238.6 M507.8 220.7 L514.2 227.1 M496 209.2 L502.7 215.7 M484.2 197.6 L490.8 204.2 M472.6 185.8 L479.2 192.4 M460.5 174 L467.4 180.6 M630.2 501.3 L630.2 503.5 M630.1 492.4 L630.1 497.6 M629.9 483.3 L630 488.5 M629.7 473.9 L629.8 479.2 M629.4 464.3 L629.6 469.8 M629 454.5 L629.3 460.1 M628.6 444.5 L628.9 450.2 M628 434.2 L628.4 440.1 M627.3 423.9 L627.7 429.7 M626.4 413.4 L626.9 419.4 M625.4 402.6 L626 409.1 M624 391 L624.8 397.5 M622.3 379.3 L623.3 385.8 M620.3 367.7 L621.4 374.2 M617.6 356.1 L619.2 362.6 M614.6 344.6 L616.4 351.1 M611.2 333.1 L613.2 339.6 M607.2 321.7 L609.5 328.1 M602.8 310.3 L605.3 316.7 M597.7 298.8 L600.6 305.2 M591.9 287.2 L595.2 293.7 M585.4 275.7 L589.1 282.2 M578.1 264.1 L582.3 270.6 M570 252.5 L574.7 259 M561.1 240.9 L566.2 247.4 M551.5 229.3 L557 235.8 M541.1 217.7 L547 224.2 M530 206.1 L536.3 212.6 M518.5 194.4 L525 201 M506.8 182.6 L513.4 189.3 M495.4 170.7 L501.9 177.4 M483.4 158.7 L490.2 165.4 M642 501.3 L642 503.5 M642.1 492.4 L642.1 497.6 M642.1 483.3 L642.1 488.5 M642.2 473.9 L642.2 479.2 M642.1 464.3 L642.2 469.8 M642 454.4 L642.1 460.1 M641.9 444.4 L642 450.1 M641.6 434.1 L641.8 439.9 M641.3 423.7 L641.5 429.6 M640.8 413.1 L641.1 419.2 M640.2 402.3 L640.6 408.8 M639.3 390.6 L639.9 397.1 M638.3 378.9 L638.9 385.4 M636.9 367.2 L637.7 373.7 M635 355.5 L636.1 362 M632.8 343.9 L634.1 350.4 M630.3 332.3 L631.8 338.8 M627.3 320.8 L629 327.3 M623.9 309.2 L625.9 315.7 M619.9 297.5 L622.2 304.1 M615.3 285.8 L618 292.4 M610.1 274.1 L613.1 280.7 M604.1 262.3 L607.5 268.9 M597.3 250.6 L601.2 257.2 M589.7 238.7 L594.1 245.4 M581.3 226.9 L586.1 233.6 M572 215.1 L577.3 221.7 M561.9 203.3 L567.6 209.9 M551.2 191.4 L557.3 198.1 M540 179.5 L546.4 186.2 M528.3 167.6 L535 174.3 M517.1 155.5 L523.5 162.3 M505.1 143.4 L511.9 150.2 M653 501.3 L652.9 503.5 M653.2 492.5 L653.1 497.6 M653.4 483.3 L653.3 488.5 M653.6 473.9 L653.5 479.3 M653.8 464.3 L653.7 469.8 M653.9 454.5 L653.8 460.1 M654 444.5 L653.9 450.2 M654 434.2 L654 440 M654 423.7 L654 429.6 M653.9 413.1 L653.9 419.2 M653.6 402.2 L653.8 408.8 M653.2 390.5 L653.4 397.1 M652.6 378.7 L653 385.3 M651.8 367 L652.3 373.5 M650.6 355.2 L651.3 361.8 M649.1 343.5 L649.9 350.1 M647.3 331.9 L648.3 338.4 M645.2 320.2 L646.4 326.8 M642.6 308.5 L644.1 315.1 M639.6 296.7 L641.4 303.3 M636.1 284.9 L638.2 291.5 M632 273 L634.4 279.7 M627.3 261.1 L630 267.8 M621.8 249.1 L625 255.8 M615.5 237.1 L619.1 243.8 M608.4 225.1 L612.5 231.8 M600.4 213 L605 219.8 M591.5 201 L596.6 207.7 M581.9 188.9 L587.4 195.7 M571.6 176.8 L577.5 183.6 M560.6 164.7 L566.8 171.5 M549 152.6 L555.6 159.5 M537.9 140.5 L544.2 147.4 M526 128.1 L532.8 135 M663.8 501.3 L663.8 503.5 M664.1 492.5 L663.9 497.6 M664.4 483.3 L664.2 488.6 M664.7 473.9 L664.5 479.3 M665 464.4 L664.8 469.9 M665.2 454.6 L665.1 460.2 M665.5 444.5 L665.3 450.3 M665.7 434.3 L665.6 440.1 M665.8 423.8 L665.7 429.8 M665.9 413.3 L665.9 419.4 M665.9 402.4 L665.9 409 M665.8 390.6 L665.9 397.2 M665.6 378.8 L665.7 385.4 M665.2 367 L665.4 373.6 M664.5 355.2 L664.9 361.8 M663.6 343.4 L664.1 350 M662.5 331.7 L663.2 338.2 M661.1 319.9 L661.9 326.5 M659.3 308.1 L660.4 314.8 M657.2 296.2 L658.4 302.9 M654.6 284.3 L656.1 291 M651.5 272.3 L653.3 279 M647.9 260.2 L650 267 M643.6 248 L646.1 254.9 M638.6 235.9 L641.5 242.7 M632.8 223.6 L636.1 230.5 M626.1 211.4 L629.9 218.3 M618.5 199.2 L622.9 206 M610.2 186.9 L615 193.7 M601 174.6 L606.3 181.5 M591 162.3 L596.7 169.2 M580.2 150.1 L586.3 156.9 M568.8 137.8 L575.3 144.7 M557.8 125.5 L564 132.5 M546 113 L552.7 120 M533.4 100.5 L540.6 107.5 M673.1 501.3 L673 503.5 M673.5 492.5 L673.2 497.6 M673.9 483.3 L673.6 488.6 M674.3 474 L674.1 479.3 M674.7 464.4 L674.5 469.9 M675.1 454.7 L674.9 460.3 M675.6 444.6 L675.3 450.4 M676 434.4 L675.7 440.2 M676.3 424 L676.1 429.9 M676.7 413.4 L676.5 419.5 M676.9 402.6 L676.8 409.2 M677.2 390.8 L677.1 397.4 M677.3 379 L677.2 385.7 M677.3 367.2 L677.3 373.8 M677.1 355.4 L677.2 362 M676.7 343.5 L676.9 350.2 M676.1 331.7 L676.5 338.3 M675.3 319.9 L675.8 326.5 M674.2 308 L674.9 314.7 M672.9 296 L673.7 302.8 M671.1 284 L672.1 290.8 M668.9 271.9 L670.2 278.7 M666.2 259.7 L667.8 266.5 M663 247.4 L664.9 254.3 M659.1 235.1 L661.4 242 M654.6 222.7 L657.2 229.6 M649.2 210.2 L652.3 217.2 M643 197.8 L646.6 204.8 M636 185.3 L640 192.3 M628.2 172.8 L632.7 179.8 M619.3 160.4 L624.4 167.3 M609.6 147.9 L615.1 154.9 M599 135.5 L605 142.4 M587.7 123 L594.1 130 M576.9 110.6 L583 117.6 M565.2 97.9 L571.8 105 M552.6 85.3 L559.8 92.4 M682.4 501.3 L682.3 503.5 M682.8 492.5 L682.6 497.6 M683.3 483.3 L683 488.6 M683.8 474 L683.5 479.4 M684.3 464.5 L684 469.9 M684.8 454.7 L684.5 460.3 M685.3 444.7 L685 450.4 M685.8 434.5 L685.5 440.3 M686.3 424.1 L686 430 M686.8 413.5 L686.5 419.6 M687.2 402.7 L687 409.3 M687.6 391 L687.4 397.6 M688 379.2 L687.8 385.8 M688.2 367.4 L688.1 374 M688.4 355.6 L688.3 362.2 M688.5 343.7 L688.5 350.4 M688.4 331.9 L688.5 338.5 M688.1 320 L688.3 326.7 M687.6 308 L688 314.8 M686.9 296 L687.3 302.8 M685.8 283.9 L686.5 290.7 M684.4 271.6 L685.2 278.5 M682.6 259.3 L683.7 266.3 M680.3 246.9 L681.6 253.9 M677.4 234.5 L679.1 241.5 M674 221.9 L676 229 M669.8 209.4 L672.2 216.4 M664.9 196.7 L667.7 203.8 M659.3 184.1 L662.5 191.2 M652.7 171.4 L656.5 178.5 M645.2 158.7 L649.5 165.8 M636.7 146.1 L641.6 153.1 M627.2 133.4 L632.6 140.5 M616.9 120.8 L622.8 127.9 M605.7 108.2 L612.1 115.3 M595.1 95.6 L601.1 102.7 M583.4 82.8 L590.1 89.9 M575.5 74.5 L578 77.1 M690.6 501.3 L690.5 503.5 M691.1 492.5 L690.8 497.6 M691.7 483.4 L691.4 488.6 M692.2 474 L691.9 479.4 M692.8 464.5 L692.5 470 M693.4 454.7 L693.1 460.3 M694 444.8 L693.7 450.5 M694.7 434.5 L694.3 440.4 M695.3 424.2 L695 430 M695.9 413.6 L695.6 419.7 M696.6 402.9 L696.2 409.4 M697.2 391.2 L696.8 397.7 M697.8 379.4 L697.5 386 M698.3 367.6 L698 374.2 M698.3 271.8 L698.8 278.7 M697.2 259.4 L697.9 266.4 M695.7 246.9 L696.6 253.9 M693.8 234.3 L694.9 241.4 M691.3 221.7 L692.8 228.8 M688.2 209 L690 216.1 M684.5 196.2 L686.6 203.4 M680.1 183.3 L682.7 190.5 M674.9 170.5 L678 177.7 M668.8 157.6 L672.3 164.8 M661.6 144.8 L665.8 151.9 M653.4 131.9 L658.1 139.1 M644.2 119.1 L649.5 126.3 M634.1 106.3 L639.9 113.5 M623.1 93.5 L629.4 100.7 M612.7 80.7 L618.5 88 M697.4 501.3 L697.2 503.5 M698 492.5 L697.6 497.6 M698.7 483.4 L698.3 488.6 M694.9 170.1 L697.2 177.4 M690.1 157 L692.9 164.4 M684.3 144 L687.6 151.3 M677.5 131 L681.4 138.3 M669.6 118 L674.1 125.2 M660.7 105 L665.8 112.2 M650.8 92 L656.4 99.3 M640 79.1 L646.1 86.3"/>
<path stroke="#4b0082" stroke-width="0.99" d="M147.7 503.5 L152.8 497.5 M158.8 490.5 L164 484.5 M170 477.5 L175.1 471.5 M181.2 464.5 L186.3 458.5 M192.4 451.5 L197.6 445.5 M203.7 438.5 L208.9 432.5 M215 425.4 L220.2 419.4 M226.3 412.4 L231.6 406.4 M237.7 399.3 L243 393.3 M249.1 386.2 L254.4 380.2 M260.6 373.1 L265.9 367.1 M272.2 360 L277.5 353.9 M283.8 346.8 L289.1 340.7 M295.4 333.6 L300.8 327.5 M307.1 320.4 L312.5 314.2 M318.9 307.1 L324.4 300.9 M330.8 293.7 L336.2 287.6 M342.7 280.4 L348.2 274.2 M354.7 266.9 L360.2 260.8 M366.7 253.5 L372.3 247.2 M378.9 239.9 L384.5 233.7 M391.1 226.4 L396.7 220.1 M403.4 212.7 L409.1 206.4 M415.8 199 L421.5 192.6 M428.3 185.2 L434 178.8 M440.8 171.3 L446.7 164.9 M453.5 157.4 L459.4 150.9 M466.3 143.3 L472.2 136.8 M479.2 129.2 L485.1 122.7 M492.2 115 L498.2 108.4 M505.3 100.7 L511.4 94.1 M518.5 86.3 L524.6 79.7 M193.9 503.5 L198.9 497.5 M204.7 490.5 L209.7 484.5 M215.6 477.5 L220.6 471.5 M226.5 464.5 L231.5 458.5 M237.4 451.5 L242.4 445.5 M248.3 438.5 L253.4 432.5 M259.3 425.4 L264.4 419.4 M270.4 412.4 L275.5 406.4 M281.5 399.3 L286.6 393.3 M292.6 386.2 L297.8 380.2 M303.8 373.1 L309 367.1 M315.1 360 L320.3 353.9 M326.4 346.8 L331.6 340.7 M337.8 333.6 L343 327.5 M349.2 320.4 L354.5 314.2 M360.7 307.1 L366 300.9 M372.3 293.7 L377.6 287.6 M383.9 280.4 L389.3 274.2 M395.6 266.9 L401 260.8 M407.4 253.5 L412.9 247.2 M419.3 239.9 L424.8 233.7 M431.2 226.4 L436.8 220.1 M443.3 212.7 L448.8 206.4 M455.4 199 L461 192.6 M467.6 185.2 L473.3 178.8 M479.9 171.3 L485.6 164.9 M492.3 157.4 L498.1 150.9 M504.9 143.3 L510.7 136.8 M517.5 129.2 L523.3 122.7 M530.2 115 L536.1 108.4 M543.1 100.7 L549 94.1 M556 86.3 L562.1 79.7 M260 503.5 L264.7 497.5 M270.3 490.5 L275.1 484.5 M280.7 477.5 L285.5 471.5 M291.1 464.5 L295.9 458.5 M301.6 451.5 L306.4 445.5 M312.1 438.5 L317 432.5 M322.7 425.4 L327.5 419.4 M333.3 412.4 L338.2 406.4 M343.9 399.3 L348.9 393.3 M354.7 386.2 L359.6 380.2 M365.4 373.1 L370.4 367.1 M376.3 360 L381.3 353.9 M387.1 346.8 L392.2 340.7 M398.1 333.6 L403.2 327.5 M409.1 320.4 L414.2 314.2 M420.2 307.1 L425.3 300.9 M431.4 293.7 L436.5 287.6 M442.6 280.4 L447.8 274.2 M453.9 266.9 L459.1 260.8 M465.3 253.5 L470.6 247.2 M476.8 239.9 L482.1 233.7 M488.3 226.4 L493.7 220.1 M500 212.7 L505.4 206.4 M511.7 199 L517.1 192.6 M523.5 185.2 L529 178.8 M535.5 171.3 L541 164.9 M547.5 157.4 L553.1 150.9 M559.6 143.3 L565.3 136.8 M571.9 129.2 L577.6 122.7 M584.2 115 L590 108.4 M596.7 100.7 L602.5 94.1 M609.3 86.3 L615.1 79.7 M314.2 503.5 L318.7 497.5 M324.1 490.5 L328.7 484.5 M334.1 477.5 L338.7 471.5 M344.1 464.5 L348.8 458.5 M354.2 451.5 L358.9 445.5 M364.3 438.5 L369 432.5 M374.5 425.4 L379.2 419.4 M384.8 412.4 L389.5 406.4 M395 399.3 L399.8 393.3 M405.4 386.2 L410.2 380.2 M415.8 373.1 L420.6 367.1 M426.3 360 L431.1 353.9 M436.8 346.8 L441.7 340.7 M447.4 333.6 L452.3 327.5 M458.1 320.4 L463 314.2 M468.8 307.1 L473.8 300.9 M479.6 293.7 L484.6 287.6 M490.5 280.4 L495.6 274.2 M501.5 266.9 L506.6 260.8 M512.5 253.5 L517.6 247.2 M523.7 239.9 L528.8 233.7 M534.9 226.4 L540.1 220.1 M546.2 212.7 L551.4 206.4 M557.6 199 L562.9 192.6 M569.1 185.2 L574.4 178.8 M580.7 171.3 L586.1 164.9 M592.4 157.4 L597.8 150.9 M604.2 143.3 L609.7 136.8 M616.1 129.2 L621.7 122.7 M628.2 115 L633.8 108.4 M640.3 100.7 L646 94.1 M652.6 86.3 L658.3 79.7 M347.7 503.5 L352.1 497.5 M357.4 490.5 L361.9 484.5 M367.1 477.5 L371.6 471.5 M376.9 464.5 L381.4 458.5 M386.7 451.5 L391.3 445.5 M396.6 438.5 L401.2 432.5 M406.6 425.4 L411.2 419.4 M416.6 412.4 L421.2 406.4 M426.6 399.3 L431.3 393.3 M436.7 386.2 L441.4 380.2 M446.9 373.1 L451.6 367.1 M457.2 360 L461.9 353.9 M467.5 346.8 L472.2 340.7 M477.8 333.6 L482.6 327.5 M488.3 320.4 L493.1 314.2 M498.8 307.1 L503.7 300.9 M509.4 293.7 L514.3 287.6 M520.1 280.4 L525 274.2 M530.8 266.9 L535.8 260.8 M541.7 253.5 L546.7 247.2 M552.6 239.9 L557.6 233.7 M563.6 226.4 L568.7 220.1 M574.7 212.7 L579.8 206.4 M585.9 199 L591.1 192.6 M597.2 185.2 L602.4 178.8 M608.6 171.3 L613.8 164.9 M620.1 157.4 L625.4 150.9 M631.7 143.3 L637.1 136.8 M643.4 129.2 L648.8 122.7 M655.2 115 L660.7 108.4 M667.2 100.7 L672.7 94.1 M679.2 86.3 L684.8 79.7 M372.4 503.5 L376.7 497.5 M381.9 490.5 L386.3 484.5 M391.4 477.5 L395.8 471.5 M401 464.5 L405.5 458.5 M410.7 451.5 L415.1 445.5 M420.4 438.5 L424.9 432.5 M430.1 425.4 L434.7 419.4 M440 412.4 L444.5 406.4 M449.8 399.3 L454.4 393.3 M459.8 386.2 L464.4 380.2 M469.8 373.1 L474.4 367.1 M479.9 360 L484.5 353.9 M490 346.8 L494.7 340.7 M500.2 333.6 L504.9 327.5 M510.5 320.4 L515.2 314.2 M520.8 307.1 L525.6 300.9 M531.3 293.7 L536.1 287.6 M541.8 280.4 L546.6 274.2 M552.4 266.9 L557.3 260.8 M563 253.5 L568 247.2 M573.8 239.9 L578.8 233.7 M584.6 226.4 L589.7 220.1 M595.6 212.7 L600.7 206.4 M606.6 199 L611.7 192.6 M617.8 185.2 L622.9 178.8 M629 171.3 L634.2 164.9 M640.3 157.4 L645.6 150.9 M651.8 143.3 L657.1 136.8 M663.4 129.2 L668.7 122.7 M675 115 L680.5 108.4 M686.8 100.7 L692.3 94.1 M408.4 503.5 L412.7 497.5 M417.7 490.5 L421.9 484.5 M426.9 477.5 L431.2 471.5 M436.3 464.5 L440.6 458.5 M445.6 451.5 L450 445.5 M455.1 438.5 L459.4 432.5 M464.6 425.4 L469 419.4 M474.1 412.4 L478.5 406.4 M483.7 399.3 L488.2 393.3 M493.4 386.2 L497.9 380.2 M503.2 373.1 L507.7 367.1 M513 360 L517.5 353.9 M522.9 346.8 L527.4 340.7 M532.8 333.6 L537.4 327.5 M542.9 320.4 L547.5 314.2 M553 307.1 L557.6 300.9 M563.1 293.7 L567.9 287.6 M573.4 280.4 L578.2 274.2 M583.8 266.9 L588.6 260.8 M594.2 253.5 L599 247.2 M604.7 239.9 L609.6 233.7 M615.3 226.4 L620.3 220.1 M626 212.7 L631 206.4 M636.9 199 L641.9 192.6 M647.8 185.2 L652.8 178.8 M658.8 171.3 L663.9 164.9 M669.9 157.4 L675 150.9 M681.1 143.3 L686.3 136.8 M692.5 129.2 L697.7 122.7 M435 503.5 L439.1 497.5 M444 490.5 L448.2 484.5 M453.1 477.5 L457.3 471.5 M462.2 464.5 L466.4 458.5 M471.4 451.5 L475.6 445.5 M480.6 438.5 L484.9 432.5 M489.9 425.4 L494.2 419.4 M499.3 412.4 L503.6 406.4 M508.7 399.3 L513 393.3 M518.2 386.2 L522.6 380.2 M527.7 373.1 L532.1 367.1 M537.3 360 L541.8 353.9 M547 346.8 L551.5 340.7 M556.8 333.6 L561.3 327.5 M566.6 320.4 L571.2 314.2 M576.6 307.1 L581.2 300.9 M586.6 293.7 L591.2 287.6 M596.7 280.4 L601.3 274.2 M606.8 266.9 L611.5 260.8 M617.1 253.5 L621.8 247.2 M627.4 239.9 L632.2 233.7 M637.9 226.4 L642.7 220.1 M648.4 212.7 L653.3 206.4 M659 199 L664 192.6 M669.8 185.2 L674.8 178.8 M680.6 171.3 L685.6 164.9 M691.6 157.4 L696.6 150.9 M473.9 503.5 L477.8 497.5 M482.5 490.5 L486.6 484.5 M491.3 477.5 L495.3 471.5 M500.1 464.5 L504.2 458.5 M509 451.5 L513.1 445.5 M517.9 438.5 L522 432.5 M526.9 425.4 L531.1 419.4 M536 412.4 L540.2 406.4 M545.1 399.3 L549.3 393.3 M554.3 386.2 L558.5 380.2 M563.6 373.1 L567.8 367.1 M572.9 360 L577.2 353.9 M582.3 346.8 L586.7 340.7 M591.8 333.6 L596.2 327.5 M601.4 320.4 L605.8 314.2 M611 307.1 L615.5 300.9 M620.7 293.7 L625.3 287.6 M630.6 280.4 L635.1 274.2 M640.5 266.9 L645.1 260.8 M650.5 253.5 L655.1 247.2 M660.5 239.9 L665.2 233.7 M670.7 226.4 L675.4 220.1 M681 212.7 L685.8 206.4 M691.4 199 L696.2 192.6 M502.4 503.5 L506.3 497.5 M510.9 490.5 L514.8 484.5 M519.4 477.5 L523.4 471.5 M528 464.5 L532 458.5 M536.6 451.5 L540.6 445.5 M545.3 438.5 L549.4 432.5 M554.1 425.4 L558.2 419.4 M562.9 412.4 L567 406.4 M571.9 399.3 L576 393.3 M580.8 386.2 L585 380.2 M589.9 373.1 L594.1 367.1 M599 360 L603.2 353.9 M608.2 346.8 L612.5 340.7 M617.5 333.6 L621.8 327.5 M626.9 320.4 L631.2 314.2 M636.3 307.1 L640.7 300.9 M645.8 293.7 L650.2 287.6 M655.4 280.4 L659.9 274.2 M665.2 266.9 L669.7 260.8 M674.9 253.5 L679.5 247.2 M684.8 239.9 L689.4 233.7 M694.8 226.4 L699.5 220.1 M525.2 503.5 L529 497.5 M533.5 490.5 L537.3 484.5 M541.8 477.5 L545.7 471.5 M550.2 464.5 L554.1 458.5 M558.7 451.5 L562.6 445.5 M567.2 438.5 L571.1 432.5 M575.8 425.4 L579.7 419.4 M584.4 412.4 L588.4 406.4 M593.2 399.3 L597.2 393.3 M602 386.2 L606 380.2 M610.8 373.1 L615 367.1 M619.8 360 L623.9 353.9 M628.8 346.8 L633 340.7 M637.9 333.6 L642.2 327.5 M647.1 320.4 L651.4 314.2 M656.4 307.1 L660.7 300.9 M665.8 293.7 L670.1 287.6 M675.2 280.4 L679.6 274.2 M684.8 266.9 L689.2 260.8 M694.4 253.5 L698.9 247.2 M544.2 503.5 L547.9 497.5 M552.3 490.5 L556.1 484.5 M560.5 477.5 L564.3 471.5 M568.7 464.5 L572.5 458.5 M577 451.5 L580.9 445.5 M585.4 438.5 L589.3 432.5 M593.8 425.4 L597.7 419.4 M602.3 412.4 L606.3 406.4 M610.9 399.3 L614.9 393.3 M619.6 386.2 L623.6 380.2 M628.3 373.1 L632.3 367.1 M637.1 360 L641.2 353.9 M646 346.8 L650.1 340.7 M655 333.6 L659.1 327.5 M664 320.4 L668.2 314.2 M673.2 307.1 L677.4 300.9 M682.4 293.7 L686.7 287.6 M691.7 280.4 L696 274.2 M567.9 503.5 L571.6 497.5 M575.8 490.5 L579.5 484.5 M583.8 477.5 L587.5 471.5 M591.8 464.5 L595.6 458.5 M599.9 451.5 L603.7 445.5 M608.1 438.5 L611.9 432.5 M616.4 425.4 L620.2 419.4 M624.7 412.4 L628.5 406.4 M633.1 399.3 L637 393.3 M641.5 386.2 L645.5 380.2 M650.1 373.1 L654 367.1 M658.7 360 L662.7 353.9 M667.4 346.8 L671.5 340.7 M676.2 333.6 L680.3 327.5 M685.1 320.4 L689.2 314.2 M694.1 307.1 L698.2 300.9 M599.3 503.5 L602.8 497.5 M606.9 490.5 L610.4 484.5 M614.6 477.5 L618.2 471.5 M622.4 464.5 L626 458.5 M630.2 451.5 L633.8 445.5 M638.1 438.5 L641.8 432.5 M646.1 425.4 L649.8 419.4 M654.2 412.4 L657.9 406.4 M662.3 399.3 L666.1 393.3 M670.5 386.2 L674.3 380.2 M678.8 373.1 L682.7 367.1 M687.2 360 L691.1 353.9 M695.7 346.8 L699.6 340.7 M624.2 503.5 L627.6 497.5 M631.6 490.5 L635 484.5 M639 477.5 L642.5 471.5 M646.6 464.5 L650.1 458.5 M654.2 451.5 L657.8 445.5 M661.9 438.5 L665.5 432.5 M669.7 425.4 L673.3 419.4 M677.6 412.4 L681.2 406.4 M685.5 399.3 L689.2 393.3 M693.5 386.2 L697.2 380.2 M644.9 503.5 L648.2 497.5 M652.1 490.5 L655.4 484.5 M659.4 477.5 L662.7 471.5 M666.7 464.5 L670.1 458.5 M674.2 451.5 L677.6 445.5 M681.7 438.5 L685.2 432.5 M689.3 425.4 L692.8 419.4 M697 412.4 L700.5 406.4 M678.1 503.5 L681.2 497.5 M685 490.5 L688.2 484.5 M692 477.5 L695.2 471.5"/>
</g>
<path stroke="#4b0082" stroke-width="0.99" d="M415.6 241.5 H438.4 M422.3 252.5 H450 M428.8 262.5 H460.9 M434.8 271.5 H470.9 M442.9 280.5 H480.1 M451.9 289.5 H488.4 M460.5 297.5 H495.9 M468.7 305.5 H502.8 M476.5 313.5 H509.1 M484.1 320.5 H514.8 M491.4 327.5 H519.9 M497.2 334.5 H524.8 M502.8 340.5 H529.3 M508.2 346.5 H533.4 M513.4 352.5 H537.3 M518.5 358.5 H540.8 M523.4 364.5 H544.1 M527.8 369.5 H547.1 M531.1 375.5 H549.9 M534.3 380.5 H552.4 M537.5 385.5 H554.8 M540.5 390.5 H557 M543.5 395.5 H559.1 M546.4 399.5 H561.1 M549 404.5 H562.8 M551.5 408.5 H564.3 M553.9 413.5 H565.7 M556.3 417.5 H567 M558.6 421.5 H568.2 M560.9 425.5 H569.3 M563.1 429.5 H570.4 M563.5 433.5 H571.5 M563.8 437.5 H572.5 M564.1 440.5 H573.5 M564.4 444.5 H574.4 M564.6 448.5 H575.3 M564.9 451.5 H576.1 M565.2 455.5 H576.9 M565.2 458.5 H577.7 M565.3 461.5 H578.4 M566.2 464.5 H579.2 M568 468.5 H579.8 M569.8 471.5 H580.5 M571.5 474.5 H581.2 M573.2 477.5 H581.9 M574.9 480.5 H582.4 M579.8 483.5 H583.1"/>
<path stroke="#ff0000" stroke-width="0.99" d="M500.3 74.2 L444.2 148.1 L416.4 200.9 L415.6 221.1 L415.6 241.2 L437 274.8 L491.5 327.1 L526.8 367.9 L547.4 401.1 L563.2 429.2 L565.2 454.8 L565.3 462.8 L568.3 468.1 L572.3 475.2 L575.4 480.6 L579.9 482.9 L582.5 483.8 L593.3 487.8 L604 493.1 L607.5 494.6 L610.2 498.9 M500.3 75.2 L444.2 149.1 L416.4 201.9 L415.6 222.1 L415.6 242.2 L437 275.8 L491.5 328.1 L526.8 368.9 L547.4 402.1 L563.2 430.2 L565.2 455.8 L565.3 463.8 L568.3 469.1 L572.3 476.2 L575.4 481.6 L579.9 483.9 L582.5 484.8 L593.3 488.8 L604 494.1 L607.5 495.6 L610.2 499.9"/>
<rect x="414" y="221" width="3" height="21" fill="#ff0000"/>
<path stroke="#0000ff" stroke-width="0.99" d="M375.3 74.2 L357.5 148.1 L358.9 200.8 L366.4 241.2 L366.9 274.6 L370.5 327.1 L369.7 367.6 L392.2 400.9 L445.9 429.2 L510.3 464.8 L543.6 480.1 L571.2 494.1 L573.6 499.4 M375.3 75.2 L357.5 149.1 L358.9 201.8 L366.4 242.2 L366.9 275.6 L370.5 328.1 L369.7 368.6 L392.2 401.9 L445.9 430.2 L510.3 465.8 L543.6 481.1 L571.2 495.1 L573.6 500.4"/>
<path stroke="#4b0082" stroke-width="0.99" d="M287 74 L291.2 80 L295.6 86 L300.1 92 L304.6 98 L309.1 104 L313.6 110 L318.3 116 L323.1 122 L328 128 L333 134 L338.1 140 L343.2 146 L348.5 152 L353.9 158 L359.4 164 L364.9 170 L370.6 176 L376.4 182 L382.3 188 L388.2 194 L394.3 200 L400.4 206 L406.6 212 L412.8 218 L419.2 224 L425.6 230 L432.1 236 L438.5 242 L445.1 248 L451.6 254 L458.1 260 L464.5 266 L470.7 272 L476.9 278 L482.8 284 L488.5 290 L494 296 L499.3 302 L504.4 308 L509.3 314 L514 320 L518.5 326 L522.9 332 L527.1 338 L531.1 344 L534.9 350 L538.7 356 L542.2 362 L545.5 368 L548.7 374 L551.6 380 L554.4 386 L557.2 392 L559.8 398 L562.1 404 L564 410 L565.9 416 L567.7 422 L569.3 428 L571 434 L572.6 440 L574.1 446 L575.5 452 L576.9 458 L578.3 464 L579.6 470 L580.9 476 L582.1 482 L582.5 483.9 M287 75 L291.2 81 L295.6 87 L300.1 93 L304.6 99 L309.1 105 L313.6 111 L318.3 117 L323.1 123 L328 129 L333 135 L338.1 141 L343.2 147 L348.5 153 L353.9 159 L359.4 165 L364.9 171 L370.6 177 L376.4 183 L382.3 189 L388.2 195 L394.3 201 L400.4 207 L406.6 213 L412.8 219 L419.2 225 L425.6 231 L432.1 237 L438.5 243 L445.1 249 L451.6 255 L458.1 261 L464.5 267 L470.7 273 L476.9 279 L482.8 285 L488.5 291 L494 297 L499.3 303 L504.4 309 L509.3 315 L514 321 L518.5 327 L522.9 333 L527.1 339 L531.1 345 L534.9 351 L538.7 357 L542.2 363 L545.5 369 L548.7 375 L551.6 381 L554.4 387 L557.2 393 L559.8 399 L562.1 405 L564 411 L565.9 417 L567.7 423 L569.3 429 L571 435 L572.6 441 L574.1 447 L575.5 453 L576.9 459 L578.3 465 L579.6 471 L580.9 477 L582.1 483 L582.5 484.9"/>
<path stroke="#4b0082" stroke-width="0.99" d="M582.5 484.4 L586.1 486.2 L595 490.2 L604 494.6 L610.2 499.4 M582.5 485.4 L586.1 487.2 L595 491.2 L604 495.6 L610.2 500.4"/>
<rect x="580.3" y="480.4" width="2.6" height="5.2" fill="#4b0082"/>
</svg>
</div></body></html>
